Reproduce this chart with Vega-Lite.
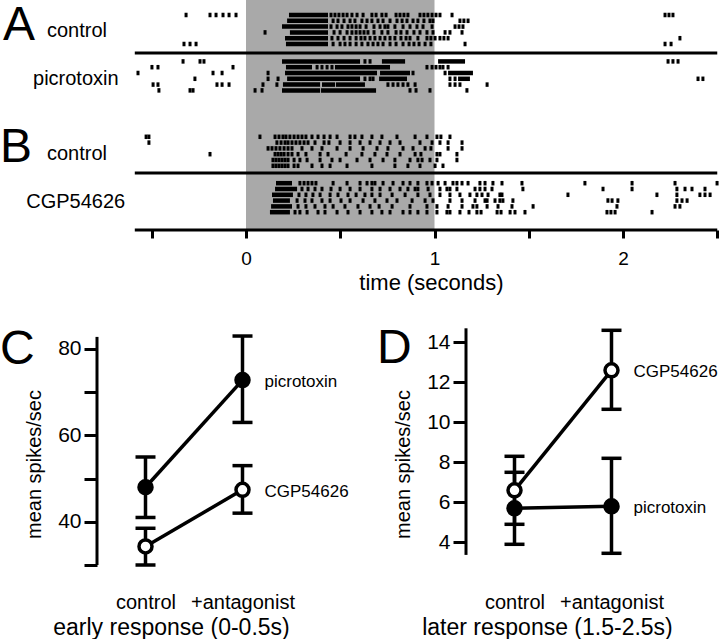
{
  "$schema": "https://vega.github.io/schema/vega-lite/v6.json",
  "padding": 0,
  "autosize": {"type": "pad"},
  "bounds": "flush",
  "spacing": 98,
  "config": {
    "font": "Liberation Sans",
    "view": {"stroke": null},
    "axis": {"grid": false, "labelColor": "black", "titleColor": "black", "titleFontWeight": "normal", "tickColor": "black", "domainColor": "black"}
  },
  "datasets": {
    "spikes": [
      {"r": 1, "t": [-0.318,-0.191,-0.159,-0.122,-0.090,-0.053,0.451,0.472,0.493,0.515,0.536,0.562,0.589,0.621,0.668,0.690,0.721,0.743,0.796,0.817,0.838,0.859,0.923,0.944,0.965,0.987,1.008,1.029,1.093,2.223,2.244,2.265]},
      {"r": 2, "t": [0.462,0.488,0.520,0.552,0.578,0.615,0.642,0.668,0.700,0.727,0.764,0.801,0.828,0.854,0.886,0.912,0.944,0.976,0.992,1.135,1.156,1.178]},
      {"r": 3, "t": [0.451,0.483,0.509,0.541,0.562,0.584,0.605,0.637,0.679,0.711,0.737,0.753,0.790,0.833,0.870,0.907,0.939,0.987,1.109,1.130,1.151]},
      {"r": 4, "t": [0.101,0.467,0.499,0.536,0.562,0.584,0.605,0.626,0.647,0.679,0.721,0.753,0.796,0.822,0.854,0.891,0.923,0.960,0.992,1.056,1.082,1.146]},
      {"r": 5, "t": [0.456,0.488,0.520,0.552,0.584,0.610,0.631,0.658,0.684,0.711,0.737,0.764,0.790,0.822,0.849,0.870,0.912,0.960,0.981,1.003,1.029,1.050,1.072,2.302]},
      {"r": 6, "t": [-0.329,-0.297,-0.265,0.462,0.499,0.525,0.552,0.584,0.615,0.647,0.674,0.700,0.727,0.764,0.796,0.833,0.865,0.891,0.918,0.950,0.981,1.162,2.223,2.255]},
      {"r": 9, "t": [-0.334,-0.244,-0.223,0.631,0.658,2.239,2.265,2.292]},
      {"r": 10, "t": [-0.499,-0.467,-0.069,0.377,0.403,0.430,0.456,0.960,0.987,1.008,1.029,1.045,1.072]},
      {"r": 11, "t": [-0.573,-0.175,-0.127,0.117,0.886,1.056]},
      {"r": 12, "t": [-0.271,0.117,0.170,0.631,0.658,0.674,1.082,1.109,2.398,2.424]},
      {"r": 13, "t": [-0.493,-0.467,-0.154,-0.127,-0.090,0.090,0.164,0.753,0.780,0.806,0.833,0.859,0.897,1.082,1.109,1.135,1.279]},
      {"r": 14, "t": [-0.462,-0.297,-0.281,0.048,0.085,0.870,0.902,0.976,1.172]},
      {"r": 22, "t": [-0.530,-0.515,0.074,0.154,0.175,0.196,0.212,0.233,0.255,0.276,0.297,0.318,0.350,0.382,0.414,0.446,0.483,0.552,0.578,0.615,0.668,0.721,0.801,0.897,0.960,1.013,1.034,1.082]},
      {"r": 23, "t": [-0.515,0.164,0.186,0.207,0.223,0.244,0.265,0.286,0.308,0.329,0.366,0.414,0.440,0.499,0.552,0.605,0.658,0.711,0.764,0.817,0.923,0.987,1.029,1.072,1.146]},
      {"r": 24, "t": [0.117,0.138,0.159,0.180,0.202,0.223,0.244,0.297,0.350,0.403,0.483,0.552,0.621,0.695,0.753,0.833,0.886,0.950,0.981,1.072,1.146]},
      {"r": 25, "t": [-0.191,0.154,0.170,0.186,0.202,0.223,0.244,0.276,0.318,0.393,0.435,0.531,0.615,0.684,0.748,0.817,0.897,0.928,1.013,1.029,1.119]},
      {"r": 26, "t": [0.143,0.159,0.175,0.191,0.207,0.223,0.255,0.286,0.324,0.393,0.456,0.499,0.589,0.658,0.727,0.790,0.870,0.912,0.934,0.976,1.013,1.119]},
      {"r": 27, "t": [0.143,0.159,0.175,0.191,0.207,0.223,0.255,0.276,0.350,0.403,0.446,0.536,0.668,0.790,0.859,0.923,1.003,1.045]},
      {"r": 30, "t": [0.286,0.308,0.329,0.350,0.371,0.462,0.536,0.605,0.642,0.668,0.684,0.727,0.780,0.833,0.870,0.912,0.960,0.987,1.019,1.056,1.098,1.119,1.146,1.178,1.241,1.268,1.310,1.358,1.464,1.798,2.048,2.276,2.499]},
      {"r": 31, "t": [0.297,0.329,0.366,0.403,0.451,0.499,0.552,0.605,0.668,0.711,0.764,0.817,0.859,0.897,0.912,0.966,1.029,1.066,1.082,1.119,1.215,1.241,1.268,1.305,1.469,1.894,2.048,2.286,2.329,2.366,2.435]},
      {"r": 32, "t": [0.281,0.318,0.355,0.393,0.446,0.488,0.541,0.584,0.631,0.668,0.711,0.775,0.844,0.912,0.976,1.029,1.082,1.135,1.188,1.225,1.252,1.284,1.347,1.358,1.708,2.180,2.286,2.408,2.435,2.462]},
      {"r": 33, "t": [0.271,0.313,0.350,0.403,0.446,0.504,0.552,0.621,0.684,0.748,0.801,0.881,0.950,0.992,1.082,1.146,1.215,1.268,1.279,1.321,1.347,1.363,1.416,1.920,1.942,1.973,2.286,2.313,2.340]},
      {"r": 34, "t": [0.276,0.318,0.366,0.419,0.462,0.525,0.594,0.658,0.706,0.775,0.870,0.960,1.013,1.072,1.146,1.204,1.225,1.279,1.337,1.411,1.523,1.968,2.276,2.302]},
      {"r": 35, "t": [0.260,0.286,0.324,0.382,0.419,0.483,0.541,0.605,0.668,0.721,0.764,0.833,0.870,0.912,0.960,1.013,1.066,1.082,1.135,1.183,1.225,1.247,1.332,1.353,1.401,1.427,1.480,1.915,1.936,1.958,2.154]}
    ],
    "bursts": [
      {"r": 1, "t0": 0.228, "t1": 0.435},
      {"r": 2, "t0": 0.218, "t1": 0.435},
      {"r": 3, "t0": 0.191, "t1": 0.435},
      {"r": 4, "t0": 0.233, "t1": 0.435},
      {"r": 5, "t0": 0.207, "t1": 0.435},
      {"r": 6, "t0": 0.212, "t1": 0.435},
      {"r": 9, "t0": 0.191, "t1": 0.605},
      {"r": 9, "t0": 0.721, "t1": 0.844},
      {"r": 9, "t0": 1.019, "t1": 1.162},
      {"r": 10, "t0": 0.212, "t1": 0.350},
      {"r": 10, "t0": 0.472, "t1": 0.764},
      {"r": 11, "t0": 0.207, "t1": 0.695},
      {"r": 11, "t0": 0.711, "t1": 0.870},
      {"r": 11, "t0": 1.072, "t1": 1.204},
      {"r": 12, "t0": 0.218, "t1": 0.605},
      {"r": 12, "t0": 0.706, "t1": 0.854},
      {"r": 12, "t0": 1.125, "t1": 1.188},
      {"r": 13, "t0": 0.196, "t1": 0.393},
      {"r": 13, "t0": 0.403, "t1": 0.472},
      {"r": 13, "t0": 0.477, "t1": 0.631},
      {"r": 14, "t0": 0.191, "t1": 0.393},
      {"r": 14, "t0": 0.398, "t1": 0.690},
      {"r": 30, "t0": 0.159, "t1": 0.244},
      {"r": 31, "t0": 0.154, "t1": 0.271},
      {"r": 32, "t0": 0.138, "t1": 0.249},
      {"r": 33, "t0": 0.143, "t1": 0.233},
      {"r": 34, "t0": 0.133, "t1": 0.244},
      {"r": 35, "t0": 0.127, "t1": 0.233}
    ],
    "dividers": [{"d": 7.55}, {"d": 28.24}],
    "early": [
      {"drug": "picrotoxin", "cond": "control", "c": 0, "mean": 48, "lo": 41, "hi": 55},
      {"drug": "picrotoxin", "cond": "+antagonist", "c": 1, "mean": 72.8, "lo": 63, "hi": 83},
      {"drug": "CGP54626", "cond": "control", "c": 0, "mean": 34.3, "lo": 30, "hi": 38.5},
      {"drug": "CGP54626", "cond": "+antagonist", "c": 1, "mean": 47.4, "lo": 42, "hi": 53}
    ],
    "later": [
      {"drug": "CGP54626", "cond": "control", "c": 0, "mean": 6.6, "lo": 4.9, "hi": 8.3},
      {"drug": "CGP54626", "cond": "+antagonist", "c": 1, "mean": 12.6, "lo": 10.65, "hi": 14.6},
      {"drug": "picrotoxin", "cond": "control", "c": 0, "mean": 5.7, "lo": 3.9, "hi": 7.5},
      {"drug": "picrotoxin", "cond": "+antagonist", "c": 1, "mean": 5.8, "lo": 3.45, "hi": 8.2}
    ]
  },
  "vconcat": [
    {
      "width": 623,
      "height": 230,
      "layer": [
        {
          "data": {"values": [{}]},
          "mark": {"type": "rect", "color": "#a9a9a9"},
          "encoding": {
            "x": {"datum": 0, "type": "quantitative", "scale": {"domain": [-0.7905, 2.5146], "nice": false, "zero": false}},
            "x2": {"datum": 1},
            "y": {"datum": -1.586, "type": "quantitative", "scale": {"domain": [-1.586, 38.07], "nice": false, "zero": false, "reverse": true}, "axis": null},
            "y2": {"datum": 38.07}
          }
        },
        {
          "data": {"values": [{}]},
          "mark": {"type": "rule", "strokeWidth": 3, "color": "black"},
          "encoding": {
            "x": {"datum": -0.59, "type": "quantitative", "scale": {"domain": [-0.7905, 2.5146], "nice": false, "zero": false}},
            "x2": {"datum": 2.5},
            "y": {"datum": 38.07, "type": "quantitative", "scale": {"domain": [-1.586, 38.07], "nice": false, "zero": false, "reverse": true}, "axis": null}
          }
        },
        {
          "data": {"name": "dividers"},
          "mark": {"type": "rule", "strokeWidth": 3, "color": "black"},
          "encoding": {
            "x": {"datum": -0.59, "type": "quantitative", "scale": {"domain": [-0.7905, 2.5146], "nice": false, "zero": false}},
            "x2": {"datum": 2.5},
            "y": {"field": "d", "type": "quantitative", "scale": {"domain": [-1.586, 38.07], "nice": false, "zero": false, "reverse": true}, "axis": null}
          }
        },
        {
          "data": {"name": "bursts"},
          "mark": {"type": "rule", "strokeWidth": 4.5, "strokeCap": "butt", "color": "black"},
          "encoding": {
            "x": {"field": "t0", "type": "quantitative", "scale": {"domain": [-0.7905, 2.5146], "nice": false, "zero": false}},
            "x2": {"field": "t1"},
            "y": {"field": "r", "type": "quantitative", "scale": {"domain": [-1.586, 38.07], "nice": false, "zero": false, "reverse": true}, "axis": null}
          }
        },
        {
          "data": {"name": "spikes"},
          "transform": [{"flatten": ["t"]}],
          "mark": {"type": "tick", "orient": "vertical", "size": 4.5, "thickness": 3, "color": "black", "opacity": 1},
          "encoding": {
            "x": {"field": "t", "type": "quantitative", "scale": {"domain": [-0.7905, 2.5146], "nice": false, "zero": false},
              "axis": {"values": [-0.5, 0, 0.5, 1, 1.5, 2, 2.5], "labelExpr": "datum.value === 0 ? '0' : datum.value === 1 ? '1' : datum.value === 2 ? '2' : ''", "domain": false, "ticks": true, "tickSize": 8, "tickWidth": 3, "labelFontSize": 19, "labelPadding": 11, "labelFlush": false, "labelOverlap": false, "title": "time (seconds)", "titleFontSize": 22, "titlePadding": 4, "titleX": 334}},
            "y": {"field": "r", "type": "quantitative", "scale": {"domain": [-1.586, 38.07], "nice": false, "zero": false, "reverse": true}, "axis": null}
          }
        },
        {
          "data": {"values": [{}]},
          "mark": {"type": "text", "text": "A", "fontSize": 48, "align": "left", "baseline": "alphabetic", "color": "black"},
          "encoding": {
            "x": {"datum": -1.289, "type": "quantitative"},
            "y": {"datum": 5.3, "type": "quantitative", "axis": null}
          }
        },
        {
          "data": {"values": [{}]},
          "mark": {"type": "text", "text": "control", "fontSize": 20, "align": "left", "baseline": "alphabetic", "color": "black"},
          "encoding": {
            "x": {"datum": -1.056, "type": "quantitative"},
            "y": {"datum": 4.85, "type": "quantitative", "axis": null}
          }
        },
        {
          "data": {"values": [{}]},
          "mark": {"type": "text", "text": "picrotoxin", "fontSize": 20, "align": "left", "baseline": "alphabetic", "color": "black"},
          "encoding": {
            "x": {"datum": -1.13, "type": "quantitative"},
            "y": {"datum": 13.0, "type": "quantitative", "axis": null}
          }
        },
        {
          "data": {"values": [{}]},
          "mark": {"type": "text", "text": "B", "fontSize": 48, "align": "left", "baseline": "alphabetic", "color": "black"},
          "encoding": {
            "x": {"datum": -1.305, "type": "quantitative"},
            "y": {"datum": 26.29, "type": "quantitative", "axis": null}
          }
        },
        {
          "data": {"values": [{}]},
          "mark": {"type": "text", "text": "control", "fontSize": 20, "align": "left", "baseline": "alphabetic", "color": "black"},
          "encoding": {
            "x": {"datum": -1.056, "type": "quantitative"},
            "y": {"datum": 26.0, "type": "quantitative", "axis": null}
          }
        },
        {
          "data": {"values": [{}]},
          "mark": {"type": "text", "text": "CGP54626", "fontSize": 20, "align": "left", "baseline": "alphabetic", "color": "black"},
          "encoding": {
            "x": {"datum": -1.166, "type": "quantitative"},
            "y": {"datum": 34.33, "type": "quantitative", "axis": null}
          }
        }
      ]
    },
    {
      "hconcat": [
        {
          "width": 194,
          "height": 237,
          "layer": [
            {
              "data": {"values": [{}]},
              "mark": {"type": "rule", "strokeWidth": 3, "color": "black"},
              "encoding": {
                "x": {"datum": -0.5, "type": "quantitative", "scale": {"domain": [-0.5, 1.5], "nice": false, "zero": false}},
                "y": {"datum": 30, "type": "quantitative", "scale": {"domain": [30, 84.86], "nice": false, "zero": false}},
                "y2": {"datum": 82.8}
              }
            },
            {
              "data": {"name": "early"},
              "mark": {"type": "rule", "strokeWidth": 3.5, "color": "black"},
              "encoding": {
                "x": {"field": "c", "type": "quantitative", "scale": {"domain": [-0.5, 1.5], "nice": false, "zero": false},
                  "axis": {"values": [0, 1], "labelExpr": "datum.value === 0 ? 'control' : '+antagonist'", "domain": false, "ticks": false, "tickSize": 0, "labelPadding": 27, "labelFontSize": 20, "labelFlush": false, "labelOverlap": false, "title": "early response (0-0.5s)", "titleFontSize": 23, "titlePadding": 4, "titleX": 74}},
                "y": {"field": "lo", "type": "quantitative", "scale": {"domain": [30, 84.86], "nice": false, "zero": false},
                  "axis": {"values": [30, 40, 50, 60, 70, 80], "labelExpr": "datum.value % 20 === 0 ? datum.label : ''", "domain": false, "ticks": true, "tickSize": 13, "tickWidth": 3, "labelFontSize": 21, "labelPadding": 3, "labelFlush": false, "title": "mean spikes/sec", "titleFontSize": 20, "titlePadding": 13, "titleY": 136}},
                "y2": {"field": "hi"}
              }
            },
            {
              "data": {"name": "early"},
              "mark": {"type": "tick", "orient": "horizontal", "size": 20, "thickness": 3.5, "color": "black", "opacity": 1},
              "encoding": {
                "x": {"field": "c", "type": "quantitative", "scale": {"domain": [-0.5, 1.5], "nice": false, "zero": false}},
                "y": {"field": "lo", "type": "quantitative", "scale": {"domain": [30, 84.86], "nice": false, "zero": false}}
              }
            },
            {
              "data": {"name": "early"},
              "mark": {"type": "tick", "orient": "horizontal", "size": 20, "thickness": 3.5, "color": "black", "opacity": 1},
              "encoding": {
                "x": {"field": "c", "type": "quantitative", "scale": {"domain": [-0.5, 1.5], "nice": false, "zero": false}},
                "y": {"field": "hi", "type": "quantitative", "scale": {"domain": [30, 84.86], "nice": false, "zero": false}}
              }
            },
            {
              "data": {"name": "early"},
              "mark": {"type": "line", "strokeWidth": 3.5, "color": "black"},
              "encoding": {
                "x": {"field": "c", "type": "quantitative", "scale": {"domain": [-0.5, 1.5], "nice": false, "zero": false}},
                "y": {"field": "mean", "type": "quantitative", "scale": {"domain": [30, 84.86], "nice": false, "zero": false}},
                "detail": {"field": "drug", "type": "nominal"}
              }
            },
            {
              "data": {"name": "early"},
              "mark": {"type": "point", "filled": true, "shape": "circle", "size": 169, "stroke": "black", "strokeWidth": 3.5, "opacity": 1},
              "encoding": {
                "x": {"field": "c", "type": "quantitative", "scale": {"domain": [-0.5, 1.5], "nice": false, "zero": false}},
                "y": {"field": "mean", "type": "quantitative", "scale": {"domain": [30, 84.86], "nice": false, "zero": false}},
                "fill": {"field": "drug", "type": "nominal", "scale": {"domain": ["picrotoxin", "CGP54626"], "range": ["black", "white"]}, "legend": null}
              }
            },
            {
              "data": {"name": "early"},
              "transform": [{"filter": "datum.c === 1"}],
              "mark": {"type": "text", "align": "left", "baseline": "middle", "dx": 22, "dy": 2, "fontSize": 17, "color": "black"},
              "encoding": {
                "x": {"field": "c", "type": "quantitative", "scale": {"domain": [-0.5, 1.5], "nice": false, "zero": false}},
                "y": {"field": "mean", "type": "quantitative", "scale": {"domain": [30, 84.86], "nice": false, "zero": false}},
                "text": {"field": "drug", "type": "nominal"}
              }
            },
            {
              "data": {"values": [{}]},
              "mark": {"type": "text", "text": "C", "fontSize": 48, "align": "left", "baseline": "alphabetic", "color": "black"},
              "encoding": {
                "x": {"datum": -1.5, "type": "quantitative"},
                "y": {"datum": 76.53, "type": "quantitative"}
              }
            }
          ]
        },
        {
          "width": 194,
          "height": 237,
          "layer": [
            {
              "data": {"values": [{}]},
              "mark": {"type": "rule", "strokeWidth": 3, "color": "black"},
              "encoding": {
                "x": {"datum": -0.5, "type": "quantitative", "scale": {"domain": [-0.5, 1.5], "nice": false, "zero": false}},
                "y": {"datum": 3.37, "type": "quantitative", "scale": {"domain": [2.865, 14.715], "nice": false, "zero": false}},
                "y2": {"datum": 14.7}
              }
            },
            {
              "data": {"name": "later"},
              "mark": {"type": "rule", "strokeWidth": 3.5, "color": "black"},
              "encoding": {
                "x": {"field": "c", "type": "quantitative", "scale": {"domain": [-0.5, 1.5], "nice": false, "zero": false},
                  "axis": {"values": [0, 1], "labelExpr": "datum.value === 0 ? 'control' : '+antagonist'", "domain": false, "ticks": false, "tickSize": 0, "labelPadding": 27, "labelFontSize": 20, "labelFlush": false, "labelOverlap": false, "title": "later response (1.5-2.5s)", "titleFontSize": 23, "titlePadding": 4, "titleX": 81}},
                "y": {"field": "lo", "type": "quantitative", "scale": {"domain": [2.865, 14.715], "nice": false, "zero": false},
                  "axis": {"values": [4, 6, 8, 10, 12, 14], "domain": false, "ticks": true, "tickSize": 13, "tickWidth": 3, "labelFontSize": 21, "labelPadding": 3, "labelFlush": false, "title": "mean spikes/sec", "titleFontSize": 20, "titlePadding": 13, "titleY": 136}},
                "y2": {"field": "hi"}
              }
            },
            {
              "data": {"name": "later"},
              "mark": {"type": "tick", "orient": "horizontal", "size": 20, "thickness": 3.5, "color": "black", "opacity": 1},
              "encoding": {
                "x": {"field": "c", "type": "quantitative", "scale": {"domain": [-0.5, 1.5], "nice": false, "zero": false}},
                "y": {"field": "lo", "type": "quantitative", "scale": {"domain": [2.865, 14.715], "nice": false, "zero": false}}
              }
            },
            {
              "data": {"name": "later"},
              "mark": {"type": "tick", "orient": "horizontal", "size": 20, "thickness": 3.5, "color": "black", "opacity": 1},
              "encoding": {
                "x": {"field": "c", "type": "quantitative", "scale": {"domain": [-0.5, 1.5], "nice": false, "zero": false}},
                "y": {"field": "hi", "type": "quantitative", "scale": {"domain": [2.865, 14.715], "nice": false, "zero": false}}
              }
            },
            {
              "data": {"name": "later"},
              "mark": {"type": "line", "strokeWidth": 3.5, "color": "black"},
              "encoding": {
                "x": {"field": "c", "type": "quantitative", "scale": {"domain": [-0.5, 1.5], "nice": false, "zero": false}},
                "y": {"field": "mean", "type": "quantitative", "scale": {"domain": [2.865, 14.715], "nice": false, "zero": false}},
                "detail": {"field": "drug", "type": "nominal"}
              }
            },
            {
              "data": {"name": "later"},
              "mark": {"type": "point", "filled": true, "shape": "circle", "size": 169, "stroke": "black", "strokeWidth": 3.5, "opacity": 1},
              "encoding": {
                "x": {"field": "c", "type": "quantitative", "scale": {"domain": [-0.5, 1.5], "nice": false, "zero": false}},
                "y": {"field": "mean", "type": "quantitative", "scale": {"domain": [2.865, 14.715], "nice": false, "zero": false}},
                "fill": {"field": "drug", "type": "nominal", "scale": {"domain": ["picrotoxin", "CGP54626"], "range": ["black", "white"]}, "legend": null}
              }
            },
            {
              "data": {"name": "later"},
              "transform": [{"filter": "datum.c === 1"}],
              "mark": {"type": "text", "align": "left", "baseline": "middle", "dx": 22, "dy": 2, "fontSize": 17, "color": "black"},
              "encoding": {
                "x": {"field": "c", "type": "quantitative", "scale": {"domain": [-0.5, 1.5], "nice": false, "zero": false}},
                "y": {"field": "mean", "type": "quantitative", "scale": {"domain": [2.865, 14.715], "nice": false, "zero": false}},
                "text": {"field": "drug", "type": "nominal"}
              }
            },
            {
              "data": {"values": [{}]},
              "mark": {"type": "text", "text": "D", "fontSize": 48, "align": "left", "baseline": "alphabetic", "color": "black"},
              "encoding": {
                "x": {"datum": -1.418, "type": "quantitative"},
                "y": {"datum": 12.965, "type": "quantitative"}
              }
            }
          ]
        }
      ],
      "spacing": 175,
      "bounds": "flush"
    }
  ]
}
